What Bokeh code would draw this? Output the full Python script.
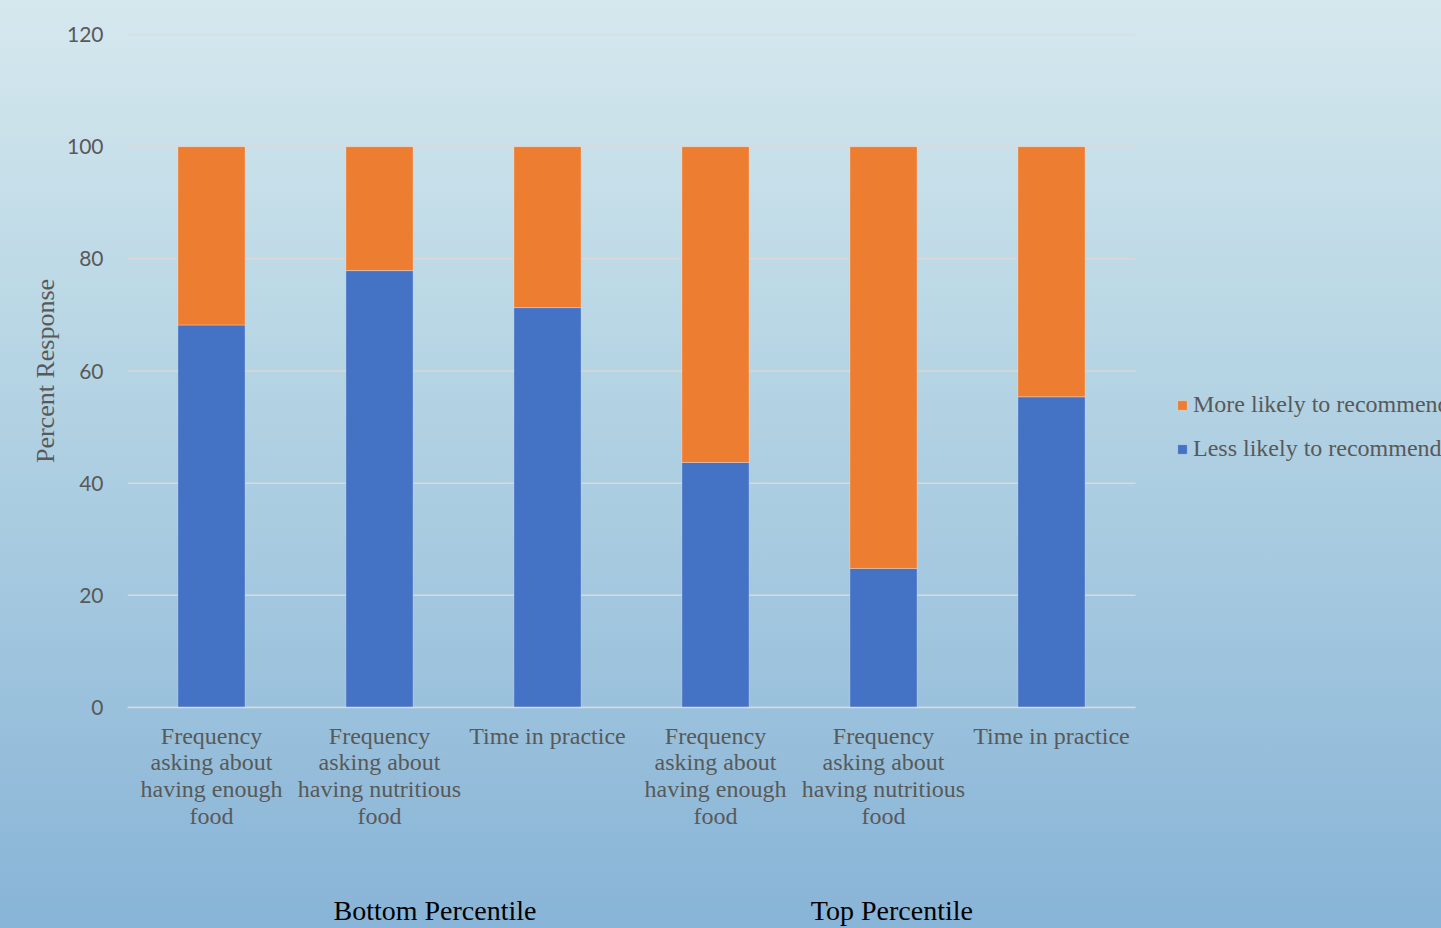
from bokeh.plotting import figure
from bokeh.models import (ColumnDataSource, Range1d, LinearAxis,
                          FixedTicker, Legend, LegendItem)
from bokeh.embed import file_html
from bokeh.resources import INLINE

groups = ["Bottom Percentile", "Top Percentile"]
measures = ["Frequency\nasking about\nhaving enough\nfood",
            "Frequency\nasking about\nhaving nutritious\nfood",
            "Time in practice"]
less_likely = [68.2, 77.9, 71.3, 43.7, 24.8, 55.4]
more_likely = [31.8, 22.1, 28.7, 56.3, 75.2, 44.6]
series_names = ["Less likely to recommend", "More likely to recommend"]
y_ticks = [0, 20, 40, 60, 80, 100, 120]

BLUE = "#4472c4"
ORANGE = "#ed7d31"
GRAY = "#595959"
GRID = "#d9d9d9"
SERIF = "Liberation Serif"

categories = [m for g in groups for m in measures]
n = len(categories)
x_pos = [i + 0.5 for i in range(n)]
src = ColumnDataSource(dict(x=x_pos, less=less_likely, more=more_likely))

FRAME_L, W, H = 127, 1441, 928
cat_px = 168
x_end = (W - FRAME_L) / cat_px

p = figure(x_range=Range1d(0, x_end), y_range=Range1d(0, 120), width=W, height=H,
           output_backend="svg", toolbar_location=None,
           min_border_left=FRAME_L, min_border_right=0, min_border_top=34,
           min_border_bottom=221,
           styles={"background": "linear-gradient(180deg, #d6e8ee 0%, #b9d7e5 35%, #88b4d7 100%)"})
p.background_fill_alpha = 0
p.border_fill_alpha = 0
p.outline_line_color = None
p.xgrid.visible = False
p.ygrid.visible = False

# horizontal gridlines spanning only the category area
p.segment(x0=[0] * len(y_ticks), x1=[n] * len(y_ticks), y0=y_ticks, y1=y_ticks,
          line_color=GRID, line_width=1.5)

rs = p.vbar_stack(["less", "more"], x="x", width=0.4, color=[BLUE, ORANGE],
                  line_color="white", line_alpha=0.3, line_width=1, source=src)

# y axis
p.yaxis.ticker = FixedTicker(ticks=y_ticks)
p.yaxis.axis_line_color = None
p.yaxis.major_tick_line_color = None
p.yaxis.minor_tick_line_color = None
p.yaxis.major_label_text_font = "Lato"
p.yaxis.major_label_text_font_size = "21px"
p.yaxis.major_label_text_color = GRAY
p.yaxis.major_label_standoff = 18
p.yaxis.axis_label = "Percent Response"
p.yaxis.axis_label_text_font = SERIF
p.yaxis.axis_label_text_font_style = "normal"
p.yaxis.axis_label_text_font_size = "26px"
p.yaxis.axis_label_text_color = GRAY
p.yaxis.axis_label_standoff = 4

# x axis (categories)
xa = p.xaxis[0]
xa.ticker = FixedTicker(ticks=x_pos)
xa.major_label_overrides = {x_pos[i]: categories[i] for i in range(n)}
xa.bounds = (0, n)
xa.axis_line_color = GRID
xa.axis_line_width = 1.5
xa.major_tick_line_color = None
xa.minor_tick_line_color = None
xa.major_label_text_font = SERIF
xa.major_label_text_font_size = "24px"
xa.major_label_text_color = GRAY
xa.major_label_text_line_height = 1.03
xa.major_label_standoff = 9

# group labels on a second axis
grp_pos = [1.83, 4.55]
ga = LinearAxis(ticker=FixedTicker(ticks=grp_pos),
                major_label_overrides={grp_pos[i]: groups[i] for i in range(2)})
ga.axis_line_color = None
ga.major_tick_line_color = None
ga.minor_tick_line_color = None
ga.major_label_text_font = SERIF
ga.major_label_text_font_size = "28px"
ga.major_label_text_color = "black"
ga.major_label_standoff = 57
p.add_layout(ga, "below")

legend = Legend(items=[LegendItem(label=series_names[1], renderers=[rs[1]]),
                       LegendItem(label=series_names[0], renderers=[rs[0]])],
                location=(1049, 245), orientation="vertical")
legend.padding = 0
legend.margin = 0
legend.border_line_color = None
legend.background_fill_alpha = 0
legend.glyph_width = 12
legend.glyph_height = 12
legend.label_height = 23
legend.spacing = 17
legend.label_standoff = 5
legend.label_text_font = SERIF
legend.label_text_font_size = "24px"
legend.label_text_color = GRAY
p.add_layout(legend, "center")

open("out.html", "w").write(file_html(p, INLINE))
